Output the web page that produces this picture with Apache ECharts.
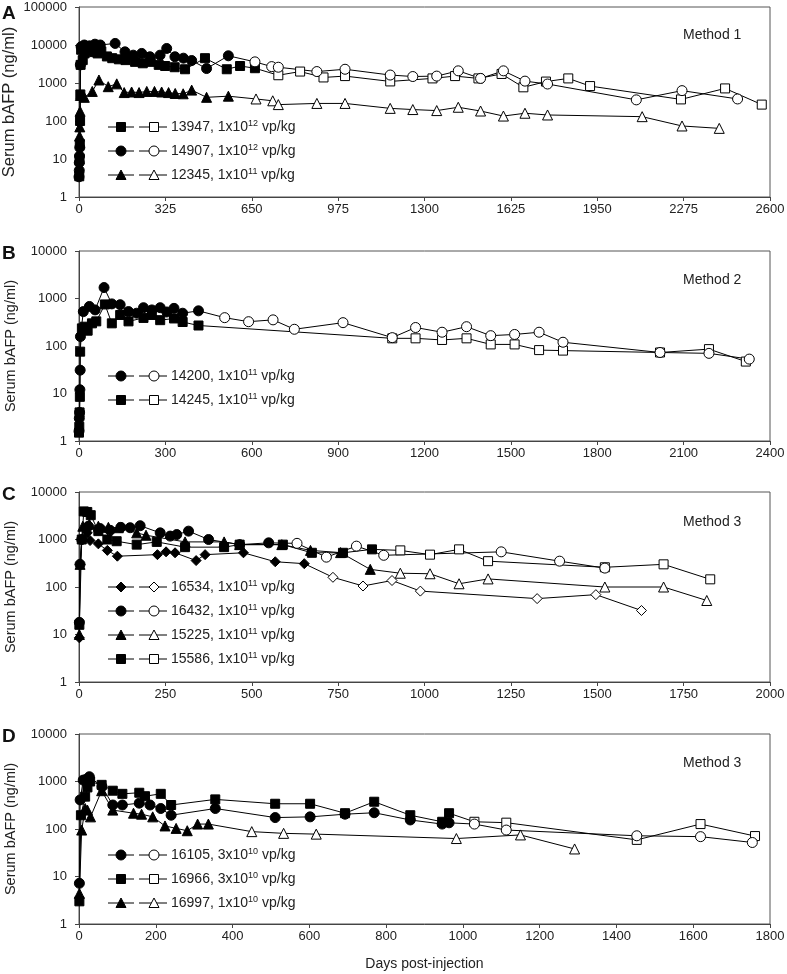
<!DOCTYPE html>
<html><head><meta charset="utf-8">
<script src="https://cdn.jsdelivr.net/npm/echarts@6/dist/echarts.min.js"></script>
<style>html,body{margin:0;padding:0;background:#fff}#c{width:787px;height:974px}</style>
</head><body><div id="c"></div>
<script>
// ---------- Panel A (Method 1) ----------
const xTicksA = [0, 2600, 325];
const a13947Filled = [[1,3.5],[2,10],[3,25],[4,100],[5,500],[6,3000],[8,7500],[14,4000],[21,6000],[28,7500],[42,7500],[56,6500],[70,6000],[84,6800],[105,5000],[125,4500],[150,4200],[175,4000],[211,3600],[240,3300],[270,3600],[300,3000],[324,2800],[360,2600],[399,2300],[474,4500],[556,2300],[606,2800],[662,2450]];
const a13947Open = [[750,1600],[832,2000],[920,1400],[1001,1520],[1171,1100],[1330,1320],[1415,1520],[1503,1320],[1590,1730],[1672,770],[1757,1090],[1841,1320],[1923,830],[2265,370],[2431,720],[2569,270]];
const a14907Filled = [[0,3.4],[1,5],[1,8],[2,12],[3,20],[5,3000],[8,9000],[20,10000],[40,9500],[60,10500],[80,10000],[136,11000],[173,6600],[204,5400],[236,6000],[267,4900],[305,5400],[330,8100],[361,4900],[393,4500],[424,3900],[480,2400],[562,5200]];
const a14907Open = [[662,3600],[725,2700],[750,2600],[895,2000],[1001,2300],[1171,1620],[1256,1480],[1346,1520],[1427,2090],[1511,1320],[1597,2090],[1678,1120],[1763,940],[2097,360],[2269,630],[2478,380]];
const a12345Filled = [[1,10],[2,40],[3,70],[4,180],[5,470],[20,420],[50,600],[75,1200],[110,800],[142,950],[170,560],[198,580],[226,560],[255,600],[284,600],[311,580],[337,560],[362,530],[392,520],[424,650],[480,420],[562,450]];
const a12345Open = [[666,380],[729,340],[750,270],[895,290],[1001,290],[1171,215],[1256,200],[1346,188],[1427,230],[1511,183],[1597,135],[1678,160],[1763,144],[2119,130],[2269,74],[2409,64]];

// ---------- Panel B (Method 2) ----------
const xTicksB = [0, 2400, 300];
const b14200Filled = [[0,1.6],[1,3],[2,4],[3,12],[4,31],[5,158],[15,530],[36,680],[56,575],[87,1700],[114,770],[143,740],[172,530],[200,490],[224,640],[253,575],[282,640],[305,520],[330,620],[360,490],[415,550]];
const b14200Open = [[506,395],[589,325],[674,355],[748,225],[917,310],[1088,150],[1169,245],[1261,195],[1346,255],[1430,165],[1513,175],[1598,195],[1681,120],[2018,73],[2188,70],[2328,53]];
const b14245Filled = [[0,1.5],[1,2],[2,4],[3,8.5],[4,76],[10,235],[20,255],[30,210],[45,300],[60,330],[90,750],[114,300],[143,450],[172,330],[224,390],[253,450],[282,350],[330,380],[360,320],[415,270]];
const b14245Open = [[1088,145],[1169,145],[1261,134],[1346,145],[1430,108],[1513,108],[1598,82],[1681,80],[2018,73],[2188,86],[2316,47]];

// ---------- Panel C (Method 3) ----------
const xTicksC = [0, 2000, 250];
const c16534Filled = [[1,8.5],[3,300],[8,1000],[24,1380],[32,950],[56,810],[82,590],[111,445],[227,480],[252,550],[278,525],[339,360],[365,480],[476,525],[568,340],[652,310]];
const c16534Open = [[735,160],[822,105],[906,137],[988,82],[1326,57],[1496,69],[1628,32]];
const c16432Filled = [[1,18],[3,300],[8,1000],[27,1900],[61,1700],[90,1560],[121,1800],[148,1770],[177,1950],[235,1380],[264,1180],[283,1270],[317,1500],[375,1000],[465,780],[549,850]];
const c16432Open = [[631,830],[716,425],[803,725],[882,465],[1222,550],[1391,350],[1522,250]];
const c15225Filled = [[1,10],[3,300],[11,1900],[30,2100],[56,1900],[85,1800],[114,1770],[167,1380],[194,1230],[307,890],[420,890],[465,780],[587,780],[670,590],[757,530],[843,235]];
const c15225Open = [[930,195],[1016,190],[1100,117],[1184,148],[1522,100],[1692,100],[1817,52]];
const c15586Filled = [[1,16],[8,1000],[14,3900],[24,3800],[34,3250],[56,1500],[82,1000],[109,920],[167,780],[225,890],[307,690],[420,690],[465,780],[590,780],[674,525],[764,525],[848,620]];
const c15586Open = [[930,590],[1016,480],[1100,620],[1184,350],[1522,260],[1692,300],[1827,145]];

// ---------- Panel D (Method 3) ----------
const xTicksD = [0, 1800, 200];
const d16105Filled = [[1,7.2],[3,410],[11,1070],[18,1100],[27,1260],[60,780],[88,320],[113,320],[157,350],[185,320],[213,270],[240,195],[355,270],[511,174],[602,180],[693,205],[769,220],[863,155],[946,127],[964,135]];
const d16105Open = [[1030,127],[1113,95],[1453,72],[1619,69],[1754,52]];
const d16966Filled = [[1,3],[5,195],[16,480],[22,750],[29,1000],[59,850],[88,640],[113,550],[157,580],[172,490],[213,550],[240,320],[355,420],[511,340],[602,340],[693,215],[769,375],[863,195],[946,142],[964,215]];
const d16966Open = [[1030,142],[1113,136],[1453,59],[1619,127],[1761,71]];
const d16997Filled = [[1,4.4],[7,95],[16,270],[22,250],[30,180],[59,640],[88,250],[142,215],[163,205],[192,180],[224,116],[253,103],[282,92],[309,127],[337,127]];
const d16997Open = [[450,88],[533,81],[618,78],[983,63],[1150,75],[1291,38]];

// ---------- Text ----------
const panelLetters = ['A','B','C','D'];
const methodLabels = ['Method 1','Method 2','Method 3','Method 3'];
const yTitle = 'Serum bAFP (ng/ml)';
const xTitle = 'Days post-injection';
const legendA = [['rect','13947, 1x10','12'],['circle','14907, 1x10','12'],['triangle','12345, 1x10','11']];
const legendB = [['circle','14200, 1x10','11'],['rect','14245, 1x10','11']];
const legendC = [['diamond','16534, 1x10','11'],['circle','16432, 1x10','11'],['triangle','15225, 1x10','11'],['rect','15586, 1x10','11']];
const legendD = [['circle','16105, 3x10','10'],['rect','16966, 3x10','10'],['triangle','16997, 1x10','10']];

// ---------- Layout ----------
const FF = "'Liberation Sans', Arial, sans-serif";
const GL = 79, GW = 691, GH = 190;
const gridTops = [7, 251, 492, 734];
const yMax = [100000, 10000, 10000, 10000];
const yTitleSize = [16.5, 14.5, 14.5, 14.5];
const yTitleGap = [61, 61, 61, 61];
const xSpec = [xTicksA, xTicksB, xTicksC, xTicksD];

const grids = gridTops.map(t => ({left: GL, top: t, width: GW, height: GH, outerBoundsMode: 'none', containLabel: false,
  show: true, borderColor: '#555', borderWidth: 1, backgroundColor: 'transparent'}));
const xAxes = xSpec.map((s, i) => ({
  type: 'value', gridIndex: i, min: s[0], max: s[1], interval: s[2],
  axisLine: {show: true, lineStyle: {color: '#444', width: 1}},
  axisTick: {show: true, length: 4, lineStyle: {color: '#444'}},
  axisLabel: {fontSize: 13, color: '#222', fontFamily: FF, margin: 6, showMinLabel: true, showMaxLabel: true,
    formatter: v => String(Math.round(v))},
  splitLine: {show: false},
  name: i === 3 ? xTitle : '', nameLocation: 'middle', nameGap: 33, nameMoveOverlap: false,
  nameTextStyle: {fontSize: 14, color: '#222', fontFamily: FF}
}));
const yAxes = yMax.map((m, i) => ({
  type: 'log', logBase: 10, gridIndex: i, min: 1, max: m, splitNumber: Math.round(Math.log10(m)),
  axisLine: {show: true, lineStyle: {color: '#444', width: 1}},
  axisTick: {show: true, length: 4, lineStyle: {color: '#444'}},
  axisLabel: {fontSize: 13, color: '#222', fontFamily: FF, margin: 12, formatter: v => String(Math.round(v))},
  splitLine: {show: false}, minorTick: {show: false},
  name: yTitle, nameLocation: 'middle', nameRotate: 90, nameGap: yTitleGap[i], nameMoveOverlap: false,
  nameTextStyle: {fontSize: yTitleSize[i], color: '#222', fontFamily: FF}
}));

function mk(panel, sym, size, filled, open) {
  const data = filled.map(p => ({value: p, itemStyle: {color: '#000'}}))
    .concat(open.map(p => ({value: p, itemStyle: {color: '#fff'}})));
  return {type: 'line', xAxisIndex: panel, yAxisIndex: panel, symbol: sym, symbolSize: size,
    showAllSymbol: true, data, lineStyle: {color: '#000', width: 1},
    itemStyle: {borderColor: '#000', borderWidth: 1}, emphasis: {disabled: true}, animation: false};
}
const series = [
  mk(0, 'triangle', 10, a12345Filled, a12345Open),
  mk(0, 'rect', 9, a13947Filled, a13947Open),
  mk(0, 'circle', 10, a14907Filled, a14907Open),
  mk(1, 'rect', 9, b14245Filled, b14245Open),
  mk(1, 'circle', 10, b14200Filled, b14200Open),
  mk(2, 'diamond', 10, c16534Filled, c16534Open),
  mk(2, 'triangle', 10, c15225Filled, c15225Open),
  mk(2, 'rect', 9, c15586Filled, c15586Open),
  mk(2, 'circle', 10, c16432Filled, c16432Open),
  mk(3, 'triangle', 10, d16997Filled, d16997Open),
  mk(3, 'rect', 9, d16966Filled, d16966Open),
  mk(3, 'circle', 10, d16105Filled, d16105Open)
];

// ---------- Graphic (legends, labels) ----------
function marker(sym, cx, cy, fill) {
  const st = {fill, stroke: '#000', lineWidth: 1};
  if (sym === 'rect') return {type: 'rect', shape: {x: cx - 4.5, y: cy - 4.5, width: 9, height: 9}, style: st};
  if (sym === 'circle') return {type: 'circle', shape: {cx, cy, r: 5}, style: st};
  if (sym === 'triangle') return {type: 'polygon', shape: {points: [[cx, cy - 5], [cx + 5, cy + 4.5], [cx - 5, cy + 4.5]]}, style: st};
  return {type: 'polygon', shape: {points: [[cx, cy - 5], [cx + 5, cy], [cx, cy + 5], [cx - 5, cy]]}, style: st};
}
const graphics = [];
function legend(rows, y0) {
  rows.forEach((r, k) => {
    const y = y0 + k * 24;
    graphics.push({type: 'line', shape: {x1: 108, y1: y, x2: 134, y2: y}, style: {stroke: '#000', lineWidth: 1}});
    graphics.push({type: 'line', shape: {x1: 139, y1: y, x2: 167, y2: y}, style: {stroke: '#000', lineWidth: 1}});
    graphics.push(marker(r[0], 121, y, '#000'));
    graphics.push(marker(r[0], 154, y, '#fff'));
    graphics.push({type: 'text', x: 171, y: y, style: {
      text: '{a|' + r[1] + '}{s|' + r[2] + '}{a| vp/kg}', verticalAlign: 'middle', align: 'left',
      rich: {a: {fontSize: 14, fontFamily: FF, fill: '#222', lineHeight: 16},
             s: {fontSize: 9, fontFamily: FF, fill: '#222', lineHeight: 10, verticalAlign: 'top'}}}});
  });
}
legend(legendA, 127);
legend(legendB, 376);
legend(legendC, 587);
legend(legendD, 855);
const letterY = [14, 254, 495, 737];
const methodY = [35, 280, 522, 763];
panelLetters.forEach((L, i) => {
  graphics.push({type: 'text', x: 2, y: letterY[i], style: {text: L, fontSize: 19, fontWeight: 'bold', fontFamily: FF, fill: '#111', verticalAlign: 'middle'}});
  graphics.push({type: 'text', x: 683, y: methodY[i], style: {text: methodLabels[i], fontSize: 14, fontFamily: FF, fill: '#222', verticalAlign: 'middle'}});
});

const chart = echarts.init(document.getElementById('c'), null, {renderer: 'canvas'});
chart.setOption({
  animation: false, backgroundColor: '#fff',
  grid: grids, xAxis: xAxes, yAxis: yAxes, series, graphic: graphics
});
</script></body></html>
